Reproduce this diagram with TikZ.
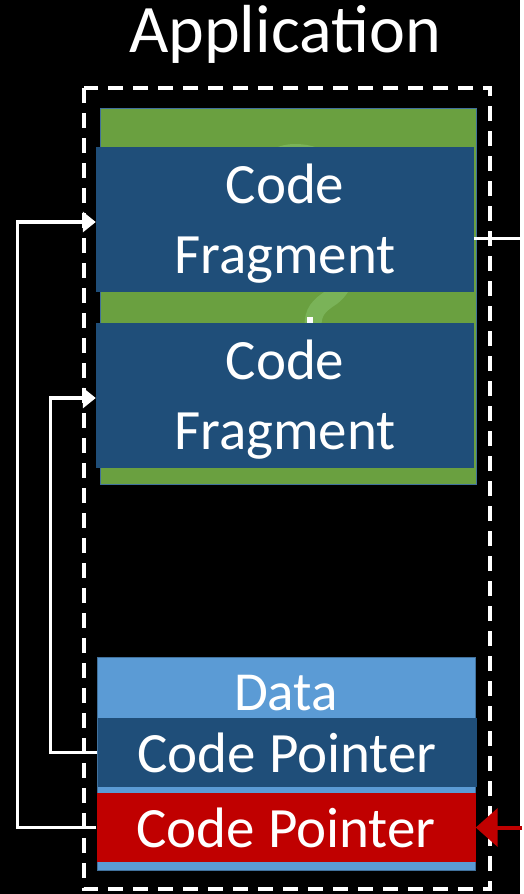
\documentclass[tikz,border=0pt]{standalone}
\usepackage{fontspec}
\setmainfont{Carlito}
\usetikzlibrary{arrows.meta}
\usetikzlibrary{positioning}
\definecolor{codeblue}{RGB}{31,78,121}
\definecolor{datablue}{RGB}{91,155,213}
\definecolor{fraggreen}{RGB}{106,160,64}
\definecolor{qgreen}{RGB}{122,179,88}
\definecolor{ptrred}{RGB}{192,0,0}
\definecolor{edgeblue}{RGB}{65,113,156}
\newcommand{\toppad}{\rule{0pt}{47pt}}
\tikzset{
    fragbox/.style={fill=codeblue, text=white, align=center, inner sep=0pt,
        minimum width=378pt, minimum height=145pt,
        font=\fontsize{57}{70}\selectfont},
    ptrbox/.style={text=white, inner sep=0pt,
        minimum width=379pt, minimum height=69pt,
        font=\fontsize{57}{57}\selectfont},
    jump/.style={white, line width=3.5pt,
        -{Triangle[length=13pt, width=20pt]}},
}
\begin{document}
\begin{tikzpicture}[x=1pt, y=-1pt]

    \fill[black] (0,0) rectangle (520,894);

    \node[text=white, font=\fontsize{68}{68}\selectfont] (app) at (285,34) {Application};

    % process boundary
    \draw[white, line width=3.5pt, dash pattern=on 15pt off 10pt] (84,88) rectangle (490,889);

    % code section, with a faint question mark behind the fragments
    \filldraw[fill=fraggreen, draw=edgeblue, thin] (100,108) rectangle (476,484);
    \draw[qgreen, line width=17pt]
        (262,185) .. controls (262,162) and (278,152.5) .. (295,152.5)
        .. controls (330,152.5) and (352,180) .. (352,225)
        .. controls (352,268) and (346,286) .. (332,297)
        .. controls (318,306) and (313,312) .. (313,326) -- (313,345);
    \fill[white] (307,317) rectangle (313,324);
    \node[fragbox] (frag1) at (285,219.5) {\toppad Code\\Fragment};
    \node[fragbox] (frag2) at (285,395.5) {\toppad Code\\Fragment};

    % data section
    \filldraw[fill=datablue, draw=edgeblue] (97,657) rectangle (475,870);
    \node[text=white, font=\fontsize{55}{55}\selectfont] (data) at (286,693) {Data};
    \node[ptrbox, fill=codeblue] (ptr1) at (287,752.5) {Code Pointer};
    \node[ptrbox, fill=ptrred] (ptr2) at (286,827.5) {Code Pointer};

    % pointers into the code
    \draw[jump] (ptr2.west) -- ++(-79,0) |- ([yshift=-2.5pt]frag1.west);
    \draw[jump] (ptr1.west) -- ++(-47,0) |- ([yshift=-2.5pt]frag2.west);

    \coordinate (out) at (522,238);
    \draw[white, line width=3pt] (frag1.east |- out) -- (out);

    % overwrite
    \coordinate (attack) at (522,827.5);
    \draw[ptrred, line width=4pt, -{Triangle[length=22pt, width=38pt]}] (attack) -- (ptr2.east);

\end{tikzpicture}
\end{document}
